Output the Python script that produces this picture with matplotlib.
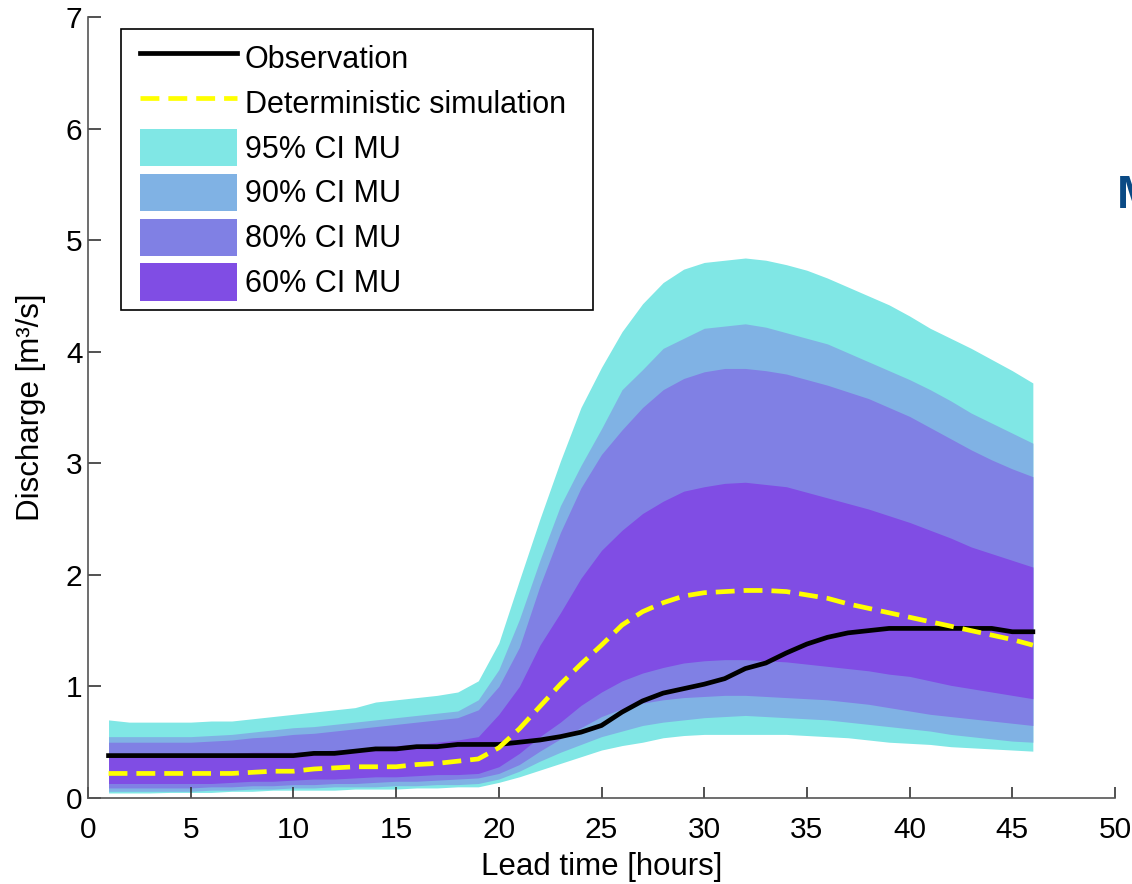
import matplotlib
matplotlib.use("Agg")
import matplotlib.pyplot as plt
from matplotlib.patches import Rectangle

plt.rcParams['font.family'] = ['Liberation Sans', 'DejaVu Sans']

lead_time = list(range(1, 47))

observation = [0.38, 0.38, 0.38, 0.38, 0.38, 0.38, 0.38, 0.38, 0.38, 0.38,
               0.40, 0.40, 0.42, 0.44, 0.44, 0.46, 0.46, 0.48, 0.48, 0.48,
               0.50, 0.52, 0.55, 0.59, 0.65, 0.77, 0.87, 0.94, 0.98, 1.02,
               1.07, 1.16, 1.21, 1.30, 1.38, 1.44, 1.48, 1.50, 1.52, 1.52,
               1.52, 1.52, 1.52, 1.52, 1.49, 1.49]

deterministic = [0.22, 0.22, 0.22, 0.22, 0.22, 0.22, 0.22, 0.23, 0.24, 0.24,
                 0.26, 0.27, 0.28, 0.28, 0.28, 0.30, 0.31, 0.33, 0.35, 0.45,
                 0.62, 0.82, 1.02, 1.20, 1.37, 1.55, 1.67, 1.75, 1.81, 1.84,
                 1.85, 1.86, 1.86, 1.85, 1.82, 1.79, 1.74, 1.70, 1.66, 1.62,
                 1.58, 1.54, 1.50, 1.46, 1.42, 1.37]

upper95 = [0.70, 0.68, 0.68, 0.68, 0.68, 0.69, 0.69, 0.71, 0.73, 0.75,
           0.77, 0.79, 0.81, 0.86, 0.88, 0.90, 0.92, 0.95, 1.05, 1.39,
           1.95, 2.50, 3.02, 3.50, 3.86, 4.18, 4.43, 4.62, 4.74, 4.80,
           4.82, 4.84, 4.82, 4.78, 4.73, 4.66, 4.58, 4.50, 4.42, 4.32,
           4.21, 4.12, 4.03, 3.93, 3.83, 3.72]
lower95 = [0.045, 0.045, 0.045, 0.05, 0.05, 0.05, 0.06, 0.06, 0.07, 0.07,
           0.07, 0.07, 0.08, 0.08, 0.08, 0.09, 0.09, 0.10, 0.10, 0.14,
           0.19, 0.25, 0.31, 0.37, 0.43, 0.47, 0.50, 0.54, 0.56, 0.57,
           0.57, 0.57, 0.57, 0.57, 0.56, 0.55, 0.54, 0.52, 0.50, 0.49,
           0.48, 0.46, 0.45, 0.44, 0.43, 0.42]

upper90 = [0.55, 0.55, 0.55, 0.55, 0.55, 0.56, 0.57, 0.59, 0.61, 0.63,
           0.64, 0.66, 0.68, 0.70, 0.72, 0.74, 0.76, 0.78, 0.88, 1.15,
           1.60, 2.13, 2.62, 2.98, 3.31, 3.66, 3.84, 4.03, 4.12, 4.21,
           4.23, 4.25, 4.22, 4.17, 4.12, 4.07, 3.99, 3.91, 3.83, 3.75,
           3.66, 3.56, 3.45, 3.36, 3.27, 3.18]
lower90 = [0.06, 0.06, 0.06, 0.06, 0.06, 0.07, 0.07, 0.08, 0.08, 0.09,
           0.09, 0.10, 0.10, 0.10, 0.11, 0.11, 0.12, 0.12, 0.13, 0.17,
           0.24, 0.33, 0.41, 0.48, 0.55, 0.60, 0.65, 0.68, 0.70, 0.72,
           0.73, 0.74, 0.73, 0.72, 0.71, 0.70, 0.68, 0.66, 0.64, 0.62,
           0.60, 0.57, 0.55, 0.53, 0.51, 0.50]

upper80 = [0.50, 0.50, 0.50, 0.50, 0.50, 0.51, 0.52, 0.54, 0.55, 0.57,
           0.58, 0.60, 0.62, 0.64, 0.66, 0.68, 0.70, 0.72, 0.79, 1.00,
           1.35, 1.90, 2.38, 2.78, 3.08, 3.30, 3.50, 3.66, 3.76, 3.82,
           3.85, 3.85, 3.83, 3.80, 3.75, 3.70, 3.64, 3.58, 3.50, 3.42,
           3.32, 3.22, 3.12, 3.03, 2.95, 2.88]
lower80 = [0.09, 0.09, 0.09, 0.09, 0.09, 0.10, 0.10, 0.11, 0.11, 0.12,
           0.12, 0.13, 0.13, 0.14, 0.15, 0.15, 0.16, 0.17, 0.18, 0.22,
           0.30, 0.42, 0.53, 0.63, 0.73, 0.80, 0.85, 0.88, 0.90, 0.91,
           0.92, 0.92, 0.91, 0.90, 0.89, 0.88, 0.86, 0.84, 0.81, 0.78,
           0.75, 0.73, 0.71, 0.69, 0.67, 0.65]

upper60 = [0.40, 0.40, 0.40, 0.40, 0.40, 0.40, 0.40, 0.41, 0.41, 0.41,
           0.42, 0.43, 0.44, 0.46, 0.47, 0.48, 0.50, 0.52, 0.55, 0.75,
           1.00, 1.37, 1.66, 1.97, 2.22, 2.40, 2.55, 2.66, 2.75, 2.79,
           2.82, 2.83, 2.81, 2.79, 2.74, 2.69, 2.64, 2.59, 2.53, 2.47,
           2.40, 2.33, 2.25, 2.19, 2.13, 2.07]
lower60 = [0.13, 0.13, 0.13, 0.13, 0.13, 0.13, 0.14, 0.15, 0.15, 0.16,
           0.17, 0.17, 0.18, 0.19, 0.19, 0.20, 0.21, 0.21, 0.22, 0.28,
           0.40, 0.55, 0.68, 0.83, 0.95, 1.05, 1.12, 1.17, 1.21, 1.23,
           1.24, 1.24, 1.23, 1.22, 1.20, 1.18, 1.16, 1.14, 1.11, 1.09,
           1.05, 1.01, 0.98, 0.95, 0.92, 0.89]

band_labels = ['95% CI MU', '90% CI MU', '80% CI MU', '60% CI MU']
band_colors = ['#80e7e5', '#80b2e4', '#8080e4', '#804de4']
x_ticks = [0, 5, 10, 15, 20, 25, 30, 35, 40, 45, 50]
y_ticks = [0, 1, 2, 3, 4, 5, 6, 7]

W, H = 1132, 884
fig = plt.figure(figsize=(W / 100, H / 100), dpi=100)
ax = fig.add_axes([88 / W, (H - 798) / H, (1115 - 88) / W, (798 - 17) / H])

bands = [(lower95, upper95), (lower90, upper90), (lower80, upper80), (lower60, upper60)]
band_handles = []
for (lo, hi), lab, col in zip(bands, band_labels, band_colors):
    h = ax.fill_between(lead_time, lo, hi, color=col, linewidth=0, label=lab)
    band_handles.append(h)

l_obs, = ax.plot(lead_time, observation, color='black', lw=3.4, label='Observation',
                 solid_joinstyle='round')
l_det, = ax.plot(lead_time, deterministic, color='#ffff00', lw=3.4,
                 linestyle=(0, (4.0, 1.9)), label='Deterministic simulation')

ax.set_xlim(0, 50)
ax.set_ylim(0, 7)
ax.set_xticks(x_ticks)
ax.set_yticks(y_ticks)
ax.tick_params(axis='x', direction='in', length=8, width=1.2, color='#333333',
               labelsize=21.5, pad=13)
ax.tick_params(axis='y', direction='in', length=9, width=1.2, color='#333333',
               labelsize=21.5, pad=4)
for s in ['top', 'right']:
    ax.spines[s].set_visible(False)
for s in ['left', 'bottom']:
    ax.spines[s].set_color('#555555')
    ax.spines[s].set_linewidth(1.2)

ax.set_xlabel('Lead time [hours]', fontsize=22.5, labelpad=6)
ax.set_ylabel('Discharge [m³/s]', fontsize=22.5, labelpad=14)

# legend frame (drawn manually to match the original box)
x0 = (121 - 88) / 1027
x1 = (593 - 88) / 1027
y0 = (798 - 310) / 781
y1 = (798 - 29) / 781
ax.add_patch(Rectangle((x0, y0), x1 - x0, y1 - y0, transform=ax.transAxes,
                       facecolor='white', edgecolor='black', lw=1.2, zorder=5,
                       clip_on=False))

fs = 22
fs_px = fs * 100 / 72
leg = ax.legend([l_obs, l_det] + band_handles,
                ['Observation', 'Deterministic simulation'] + band_labels,
                loc='upper left',
                bbox_to_anchor=((140 - 88) / 1027, (798 - 39) / 781),
                frameon=False, fontsize=fs, borderpad=0, borderaxespad=0,
                handlelength=97 / fs_px, handleheight=46 / fs_px,
                handletextpad=8 / fs_px, labelspacing=7.5 / fs_px)
leg.set_zorder(6)

fig.text(1117 / W, (H - 208) / H, 'M', color='#0a4a85', fontsize=34,
         fontweight='bold', ha='left', va='baseline')

fig.savefig('out.png', dpi=100)
